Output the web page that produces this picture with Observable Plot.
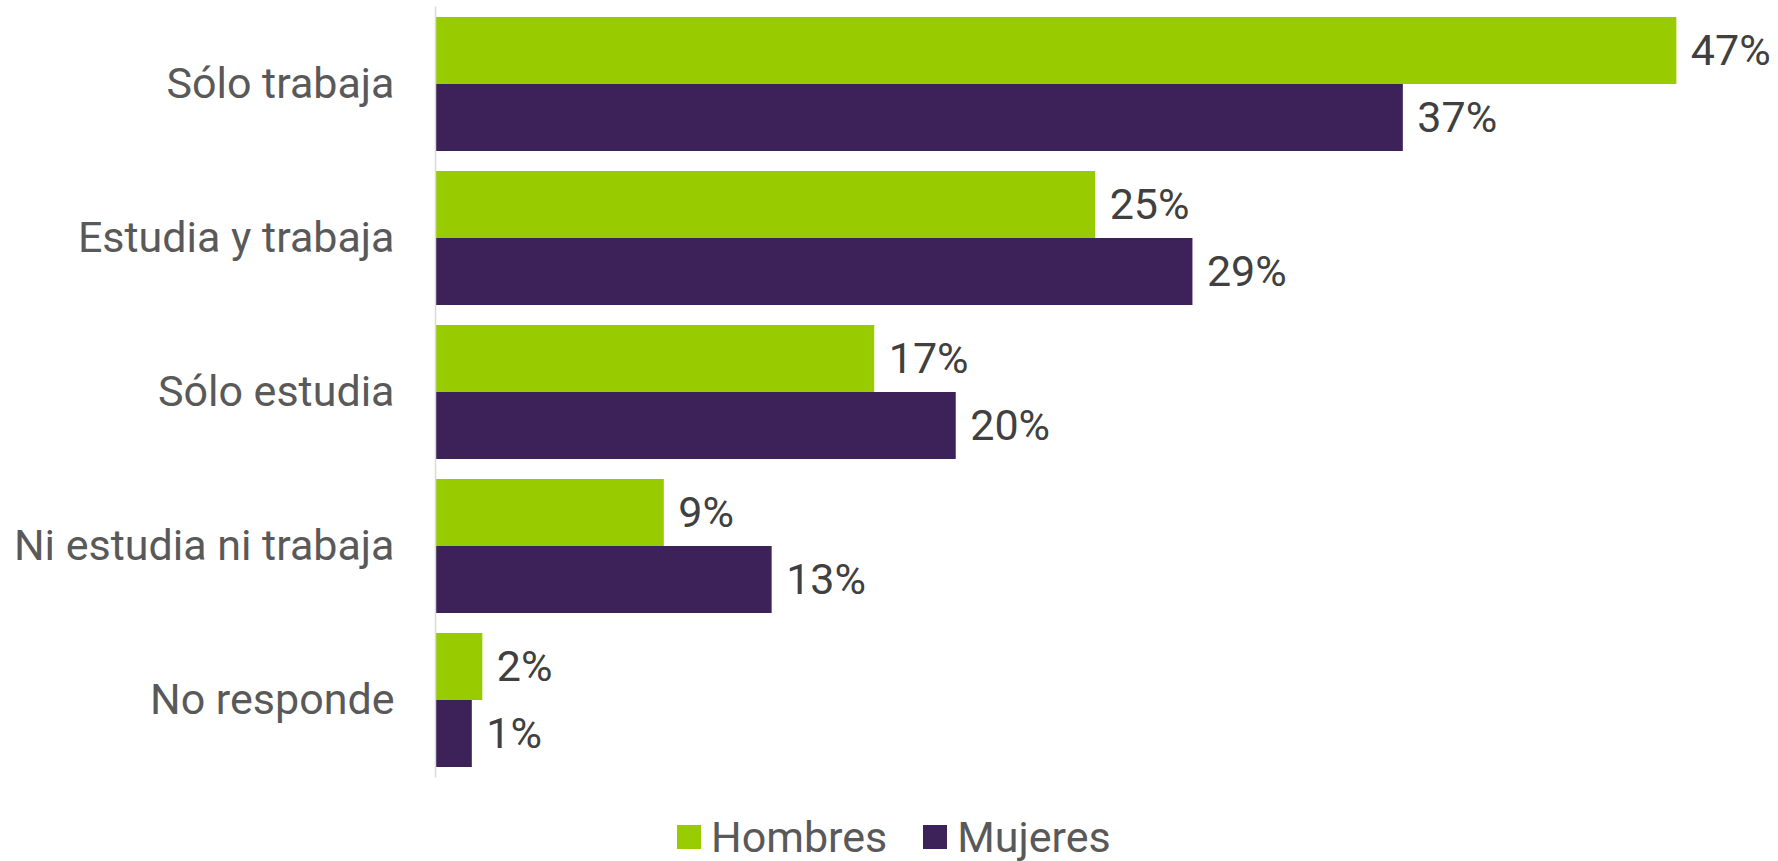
<!DOCTYPE html>
<html><head><meta charset="utf-8">
<script src="https://cdn.jsdelivr.net/npm/d3@7"></script>
<script src="https://cdn.jsdelivr.net/npm/@observablehq/plot@0.6"></script>
<style>
body{margin:0;background:#fff;font-family:Roboto,sans-serif;position:relative;width:1778px;height:861px;overflow:hidden;}
#legend{position:absolute;left:677px;top:812px;font-family:Roboto,sans-serif;font-size:43px;color:#595959;}
.lg-swatches{font-size:43px !important;font-family:Roboto,sans-serif !important;color:#595959 !important;margin:0 !important;min-height:0 !important;}
.lg-swatch{margin-right:36px !important;}
.lg-swatch > svg{margin-right:10px !important;}
</style></head><body><div id="chart"></div><div id="legend"></div>
<script>
const categories = ["Sólo trabaja", "Estudia y trabaja", "Sólo estudia", "Ni estudia ni trabaja", "No responde"];
const series = ["Hombres", "Mujeres"];
const hombres = [47.2, 25.1, 16.7, 8.7, 1.8];
const mujeres = [36.8, 28.8, 19.8, 12.8, 1.4];
const hombresLabels = ["47%", "25%", "17%", "9%", "2%"];
const mujeresLabels = ["37%", "29%", "20%", "13%", "1%"];
const colors = ["#99CC00", "#3D2159"];

const rows = [];
categories.forEach((c, i) => {
  rows.push({category: c, sex: series[0], value: hombres[i], label: hombresLabels[i]});
  rows.push({category: c, sex: series[1], value: mujeres[i], label: mujeresLabels[i]});
});

const chart = Plot.plot({
  width: 1778, height: 790,
  marginLeft: 435, marginRight: 28, marginTop: 16, marginBottom: 23,
  style: {fontFamily: "Roboto, sans-serif", fontSize: "43px", background: "white", color: "#595959", overflow: "visible"},
  x: {domain: [0, 50], axis: null},
  y: {domain: series, padding: 0, axis: null},
  fy: {domain: categories, paddingInner: 0.133, paddingOuter: 0, label: null, tickSize: 0, tickPadding: 41},
  color: {domain: series, range: colors},
  marks: [
    Plot.barX(rows, {fy: "category", y: "sex", x: "value", fill: "sex"}),
    Plot.text(rows, {fy: "category", y: "sex", x: "value", text: "label", textAnchor: "start", dx: 14, fill: "#404040", fontSize: 43}),
    Plot.ruleX([0], {stroke: "#d9d9d9", strokeWidth: 1.5, insetTop: -10.5, insetBottom: -10.5})
  ]
});
document.getElementById("chart").appendChild(chart);

const legend = Plot.legend({color: {domain: series, range: colors}, swatchSize: 24, className: "lg"});
document.getElementById("legend").appendChild(legend);
</script></body></html>
